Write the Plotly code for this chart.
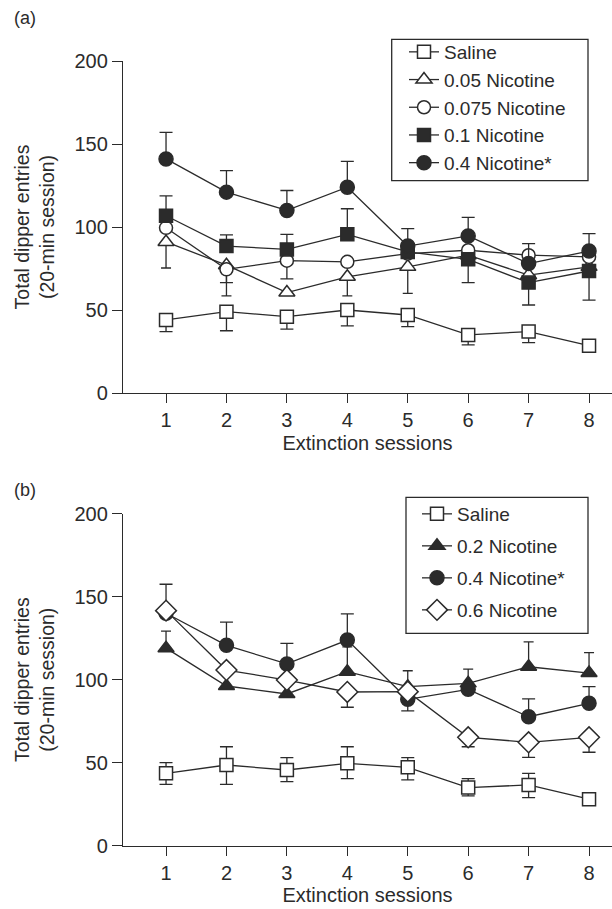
import plotly.graph_objects as go

# ---------------- data ----------------
sessions = [1, 2, 3, 4, 5, 6, 7, 8]
tick_labels = ["1", "2", "3", "4", "5", "6", "7", "8"]

# Panel (a)
a_saline = [44, 49, 46, 50, 47, 35, 37, 28.5]
a_saline_hi = [0, 0, 0, 0, 0, 0, 0, 0]
a_saline_lo = [7, 11.5, 7.5, 9.6, 7, 6, 6.7, 0]

a_n005 = [91, 77, 60.5, 70, 76, 83, 71, 76]
a_n005_hi = [0, 0, 0, 0, 0, 0, 0, 0]
a_n005_lo = [15.7, 18.5, 0, 11.5, 16, 0, 0, 0]

a_n0075 = [99.5, 74.5, 79.7, 79, 84, 86, 83, 82]
a_n0075_hi = [0, 0, 0, 0, 0, 0, 0, 0]
a_n0075_lo = [0, 8, 11, 0, 0, 0, 0, 0]

a_n01 = [106.8, 88.5, 86.5, 95.6, 85, 80.5, 66.5, 73.5]
a_n01_hi = [12, 6.7, 9, 15.4, 0, 0, 0, 0]
a_n01_lo = [0, 0, 0, 0, 0, 14, 13.5, 17.5]

a_n04 = [141, 121, 110, 124, 88.5, 94.6, 78, 85.5]
a_n04_hi = [16, 13, 12, 15.5, 10.5, 11.2, 12, 10.5]
a_n04_lo = [0, 0, 0, 0, 0, 0, 0, 0]

# Panel (b)
b_saline = [43.6, 48.6, 45.6, 49.6, 47.2, 35, 36.6, 28]
b_saline_hi = [6.4, 11, 7.4, 10, 5.8, 5.4, 7, 0]
b_saline_lo = [6.6, 11.6, 7, 9.2, 7.6, 5, 7.6, 0]

b_n02 = [119, 96.2, 91.4, 104.8, 95.8, 97.8, 107.8, 104]
b_n02_hi = [10.3, 0, 0, 15, 9.6, 8.6, 15, 12.3]
b_n02_lo = [0, 0, 0, 0, 0, 0, 0, 0]

b_n04 = [140, 120.7, 109.5, 123.9, 88.2, 94.2, 77.7, 85.8]
b_n04_hi = [17.5, 14, 12.4, 15.7, 0, 0, 10.7, 10]
b_n04_lo = [0, 0, 0, 0, 7, 0, 0, 0]

b_n06 = [141.6, 105.8, 99.8, 92.6, 92.8, 65.3, 62.3, 65.3]
b_n06_hi = [0, 0, 0, 0, 0, 0, 0, 0]
b_n06_lo = [0, 0, 0, 9.2, 0, 5.7, 9.1, 9]

# ---------------- styling ----------------
INK = "#2b2b2b"
FONT = "Liberation Sans, Arial, sans-serif"
W, H = 612, 909
STAR = "0.4 Nicotine*"


def trace(x, y, hi, lo, name, symbol, fill, xa, ya, legend, size=13, group=None, capw=6.5):
    return go.Scatter(
        x=x, y=y, name=name, mode="lines+markers",
        xaxis=xa, yaxis=ya, legend=legend, legendgroup=group,
        line=dict(color=INK, width=1.3),
        marker=dict(symbol=symbol, size=size, color=fill,
                    line=dict(color=INK, width=1.5)),
        error_y=dict(type="data", symmetric=False, array=hi, arrayminus=lo,
                     color=INK, thickness=1.3, width=capw),
        hoverinfo="skip",
    )


fig = go.Figure()

# Panel (a)
fig.add_trace(trace(sessions, a_saline, a_saline_hi, a_saline_lo, "Saline",
                    "square", "white", "x", "y", "legend"))
fig.add_trace(trace(sessions, a_n005, a_n005_hi, a_n005_lo, "0.05 Nicotine",
                    "triangle-up", "white", "x", "y", "legend", size=14, capw=5))
fig.add_trace(trace(sessions, a_n0075, a_n0075_hi, a_n0075_lo, "0.075 Nicotine",
                    "circle", "white", "x", "y", "legend"))
fig.add_trace(trace(sessions, a_n01, a_n01_hi, a_n01_lo, "0.1 Nicotine",
                    "square", INK, "x", "y", "legend"))
fig.add_trace(trace(sessions, a_n04, a_n04_hi, a_n04_lo, STAR,
                    "circle", INK, "x", "y", "legend", size=14))

# Panel (b)
fig.add_trace(trace(sessions, b_saline, b_saline_hi, b_saline_lo, "Saline",
                    "square", "white", "x2", "y2", "legend2", group="b1"))
fig.add_trace(trace(sessions, b_n02, b_n02_hi, b_n02_lo, "0.2 Nicotine",
                    "triangle-up", INK, "x2", "y2", "legend2", size=14, group="b2", capw=5))
fig.add_trace(trace(sessions, b_n04, b_n04_hi, b_n04_lo, STAR,
                    "circle", INK, "x2", "y2", "legend2", size=14, group="b3"))
fig.add_trace(trace(sessions, b_n06, b_n06_hi, b_n06_lo, "0.6 Nicotine",
                    "diamond", "white", "x2", "y2", "legend2", size=16, group="b4"))

x_dom = [123 / W, 1.0]
ya_dom = [1 - 393 / H, 1 - 61 / H]
yb_dom = [1 - 845.7 / H, 1 - 513.7 / H]

xcommon = dict(range=[0.288, 8.38], tickvals=sessions, ticktext=tick_labels,
               showline=True, linecolor=INK, linewidth=1.3, ticks="outside",
               ticklen=9, tickwidth=1.3, tickcolor=INK, showgrid=False, zeroline=False,
               automargin=False,
               tickfont=dict(size=20, color=INK, family=FONT),
               title=dict(text="Extinction sessions", font=dict(size=20, color=INK, family=FONT),
                          standoff=5))
ycommon = dict(range=[0, 200], tickvals=[0, 50, 100, 150, 200],
               showline=True, linecolor=INK, linewidth=1.3, ticks="outside",
               ticklen=10, tickwidth=1.3, tickcolor=INK, showgrid=False, zeroline=False,
               automargin=False,
               tickfont=dict(size=20, color=INK, family=FONT),
               title=dict(text="Total dipper entries<br>(20-min session)",
                          font=dict(size=19.5, color=INK, family=FONT), standoff=14))

legcommon = dict(bgcolor="rgba(0,0,0,0)", borderwidth=0,
                 font=dict(size=19, color=INK, family=FONT),
                 xanchor="left", yanchor="top", itemclick=False)

# legend frames (drawn as rectangles in paper space)
frame_a = dict(type="rect", xref="paper", yref="paper",
               x0=391.7 / W, x1=588 / W, y0=1 - 180.7 / H, y1=1 - 39.3 / H,
               line=dict(color=INK, width=1.3), fillcolor="white", layer="above")
frame_b = dict(type="rect", xref="paper", yref="paper",
               x0=406 / W, x1=588 / W, y0=1 - 633.3 / H, y1=1 - 497.3 / H,
               line=dict(color=INK, width=1.3), fillcolor="white", layer="above")

fig.update_layout(
    template="none",
    width=W, height=H,
    margin=dict(l=0, r=0, t=0, b=0, pad=0),
    paper_bgcolor="white", plot_bgcolor="white",
    font=dict(family=FONT, color=INK),
    xaxis=dict(domain=x_dom, anchor="y", **xcommon),
    yaxis=dict(domain=ya_dom, anchor="x", **ycommon),
    xaxis2=dict(domain=x_dom, anchor="y2", **xcommon),
    yaxis2=dict(domain=yb_dom, anchor="x2", **ycommon),
    legend=dict(x=404 / W, y=1 - 33 / H, tracegroupgap=0, **legcommon),
    legend2=dict(x=417 / W, y=1 - 495 / H, tracegroupgap=4.3, **legcommon),
    shapes=[frame_a, frame_b],
    annotations=[
        dict(text="(a)", x=12 / W, y=1 - 18 / H, xref="paper", yref="paper",
             xanchor="left", yanchor="middle", showarrow=False,
             font=dict(size=18, color=INK, family=FONT)),
        dict(text="(b)", x=12 / W, y=1 - 490 / H, xref="paper", yref="paper",
             xanchor="left", yanchor="middle", showarrow=False,
             font=dict(size=18, color=INK, family=FONT)),
    ],
)

fig.write_html("out.html", config={"displayModeBar": False},
               post_script="document.body.style.margin='0';")
